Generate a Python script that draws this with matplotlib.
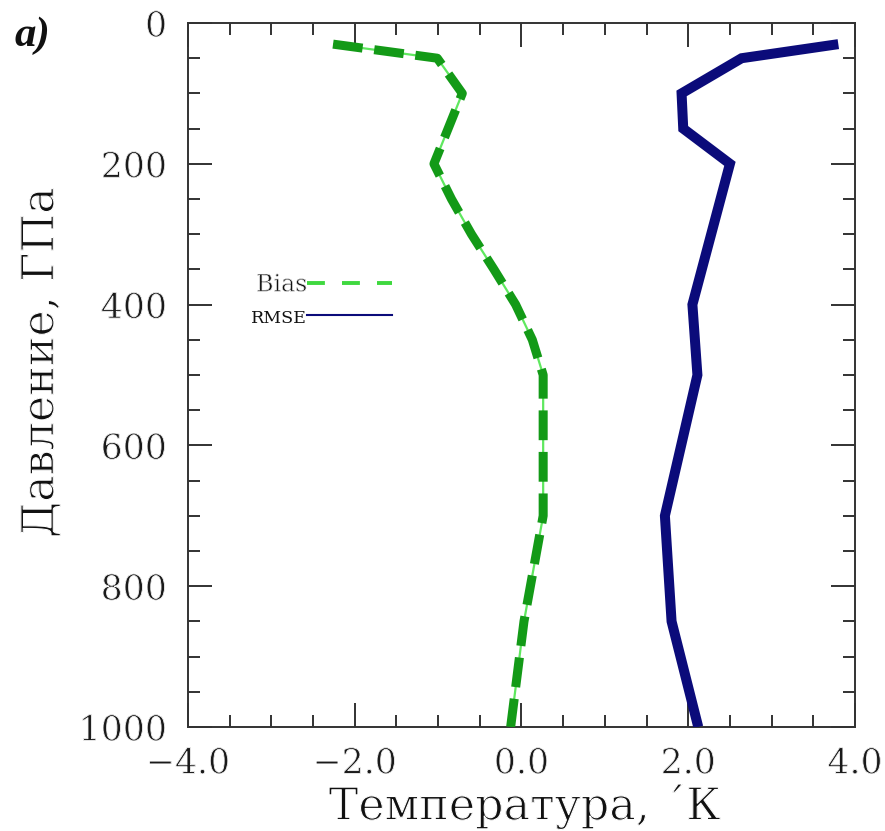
import matplotlib
matplotlib.use("Agg")
import matplotlib.pyplot as plt
import matplotlib.patheffects as pe
from matplotlib.ticker import MultipleLocator, FuncFormatter
from matplotlib.lines import Line2D

# Data
bias_levels = [30, 50, 100, 150, 200, 250, 300, 350, 400, 450, 500, 700, 850, 1000]
bias_values = [-2.26, -1.01, -0.71, -0.88, -1.05, -0.84, -0.60, -0.33, -0.07, 0.13, 0.26, 0.26, 0.03, -0.13]
rmse_levels = [30, 50, 100, 150, 200, 400, 500, 700, 850, 1000]
rmse_values = [3.80, 2.64, 1.92, 1.94, 2.50, 2.05, 2.11, 1.72, 1.80, 2.12]
series_names = ["Bias", "RMSE"]
xlabel = "Температура, ´К"
ylabel = "Давление, ГПа"
panel_label = "a)"


def thin(w):
    return [pe.Normal(), pe.Stroke(linewidth=w, foreground="white")]


fig = plt.figure(figsize=(8.85, 8.31), dpi=100)
ax = fig.add_axes([0.2124, 0.1252, 0.7537, 0.8471])

dark_green = "#139a17"
light_green = "#5fe85f"
navy = "#0b0b7a"

ax.plot(bias_values, bias_levels, color=light_green, lw=1.6, zorder=2,
        solid_capstyle="butt", solid_joinstyle="round")
ax.plot(bias_values, bias_levels, color=dark_green, lw=6.5, zorder=3,
        linestyle=(0, (3.3, 1.3)), dash_capstyle="butt", dash_joinstyle="round")
ax.plot(rmse_values, rmse_levels, color=navy, lw=7.2, zorder=3,
        solid_joinstyle="miter", solid_capstyle="butt")

ax.set_xlim(-4, 4)
ax.set_ylim(1000, 0)

ax.xaxis.set_major_locator(MultipleLocator(2))
ax.xaxis.set_minor_locator(MultipleLocator(0.5))
ax.yaxis.set_major_locator(MultipleLocator(200))
ax.yaxis.set_minor_locator(MultipleLocator(50))
ax.xaxis.set_major_formatter(FuncFormatter(lambda v, p: f"{v:.1f}".replace("-", "\u2212")))

ax.tick_params(which="both", direction="in", top=True, right=True,
               color="#222222", width=1.3)
ax.tick_params(which="major", length=17)
ax.tick_params(which="minor", length=8.5)
ax.tick_params(axis="x", which="major", pad=14, labelsize=25)
ax.tick_params(axis="y", which="major", pad=15, labelsize=25)

for sp in ax.spines.values():
    sp.set_linewidth(1.4)
    sp.set_color("#333333")

fig.text(0.593, 0.030, xlabel, ha="center", va="center",
         family="DejaVu Serif", fontsize=32, color="#111111",
         path_effects=thin(0.8))
fig.text(0.046, 0.564, ylabel, ha="center", va="center", rotation=90,
         family="DejaVu Serif", fontsize=32, color="#111111",
         path_effects=thin(0.8))
fig.text(0.037, 0.957, panel_label, ha="center", va="center",
         family="Liberation Serif", fontsize=31, fontweight="bold",
         style="italic", color="#111111")

handles = [
    Line2D([], [], color="#3fd83f", lw=2.8, linestyle=(0, (4.6, 4.4))),
    Line2D([], [], color=navy, lw=1.5),
]
leg = ax.legend(handles, series_names, loc="upper left",
                bbox_to_anchor=(0.081, 0.658), frameon=False,
                markerfirst=False, handlelength=3.6, handletextpad=0.0,
                labelspacing=0.45, borderaxespad=0,
                prop=dict(family="DejaVu Serif", size=17))
texts = leg.get_texts()
texts[0].set_fontsize(17)
texts[1].set_fontsize(12.5)
texts[0].set_path_effects(thin(0.5))
for t in texts:
    t.set_color("#111111")

fig.canvas.draw()
for lab in ax.get_xticklabels() + ax.get_yticklabels():
    lab.set_family("DejaVu Serif")
    lab.set_color("#1a1a1a")
    lab.set_path_effects(thin(0.6))

fig.savefig("out.png", dpi=100)
